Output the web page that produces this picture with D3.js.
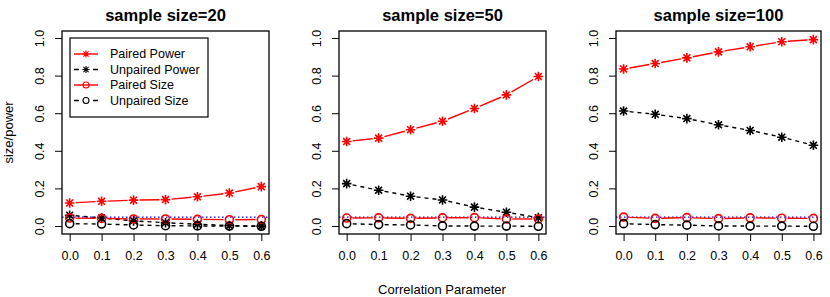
<!DOCTYPE html>
<html>
<head>
<meta charset="utf-8">
<script src="https://cdn.jsdelivr.net/npm/d3@7"></script>
<style>
  body { margin: 0; background: #fff; }
  svg { font-family: "Liberation Sans", Arial, sans-serif; }
</style>
</head>
<body>
<div id="chart"></div>
<script>
// size / power of paired vs unpaired test, three sample sizes

const corr = [0, 0.1, 0.2, 0.3, 0.4, 0.5, 0.6];
const sampleSizes = [20, 50, 100];
const yTicks = [0, 0.2, 0.4, 0.6, 0.8, 1.0];

// one row per sample size
const pairedPower = [
  [0.125, 0.134, 0.140, 0.143, 0.158, 0.178, 0.212],
  [0.452, 0.470, 0.515, 0.560, 0.628, 0.700, 0.798],
  [0.838, 0.867, 0.897, 0.929, 0.956, 0.983, 0.994]
];
const unpairedPower = [
  [0.060, 0.045, 0.030, 0.020, 0.012, 0.005, 0.002],
  [0.228, 0.193, 0.161, 0.141, 0.103, 0.076, 0.047],
  [0.614, 0.597, 0.574, 0.541, 0.511, 0.475, 0.432]
];
const pairedSize = [
  [0.045, 0.043, 0.040, 0.040, 0.038, 0.036, 0.037],
  [0.045, 0.046, 0.043, 0.046, 0.047, 0.040, 0.040],
  [0.050, 0.043, 0.047, 0.042, 0.046, 0.044, 0.043]
];
const unpairedSize = [
  [0.015, 0.013, 0.008, 0.004, 0.003, 0.002, 0.001],
  [0.015, 0.010, 0.008, 0.003, 0.002, 0.002, 0.001],
  [0.015, 0.010, 0.007, 0.003, 0.002, 0.002, 0.001]
];
const nominal = 0.05;

const series = [
  { name: "Paired Power",   vals: pairedPower,   col: "#ff0000", dash: null,  pch: "star" },
  { name: "Unpaired Power", vals: unpairedPower, col: "#000000", dash: "4,4", pch: "star" },
  { name: "Paired Size",    vals: pairedSize,    col: "#ff0000", dash: null,  pch: "circle" },
  { name: "Unpaired Size",  vals: unpairedSize,  col: "#000000", dash: "4,4", pch: "circle" }
];

const W = 830, H = 297;
const boxes = [
  { l: 62,  r: 269 },
  { l: 339, r: 546 },
  { l: 616, r: 821 }
];
const plotTop = 31, plotBottom = 234;

const svg = d3.select("#chart").append("svg")
  .attr("width", W).attr("height", H);

function drawPch(g, type, px, py, col, cex = 1, lw = 1.6) {
  if (type === "circle") {
    g.append("circle").attr("cx", px).attr("cy", py).attr("r", 4 * cex)
      .attr("fill", "none").attr("stroke", col).attr("stroke-width", lw);
  } else {
    const s = 4.8 * cex, d = s * 0.72;
    const p = `M${px - s},${py}L${px + s},${py}M${px},${py - s}L${px},${py + s}` +
              `M${px - d},${py - d}L${px + d},${py + d}M${px - d},${py + d}L${px + d},${py - d}`;
    g.append("path").attr("d", p).attr("stroke", col).attr("stroke-width", lw).attr("fill", "none");
  }
}

sampleSizes.forEach((n, i) => {
  const b = boxes[i];
  const x = d3.scaleLinear().domain([-0.024, 0.624]).range([b.l, b.r]);
  const y = d3.scaleLinear().domain([-0.04, 1.04]).range([plotBottom, plotTop]);
  const g = svg.append("g");

  // title
  g.append("text")
    .attr("x", (b.l + b.r) / 2).attr("y", 21)
    .attr("text-anchor", "middle")
    .attr("font-size", "16.5px").attr("font-weight", "bold")
    .text(`sample size=${n}`);

  // axes
  const xa = g.append("g").attr("transform", `translate(0,${plotBottom})`)
    .call(d3.axisBottom(x).tickValues(corr).tickFormat(d3.format(".1f")).tickSize(7).tickPadding(10));
  xa.select(".domain").remove();
  xa.selectAll("text").attr("font-size", "12.5px").attr("font-family", "Liberation Sans, Arial, sans-serif");

  const ya = g.append("g").attr("transform", `translate(${b.l},0)`)
    .call(d3.axisLeft(y).tickValues(yTicks).tickFormat(d3.format(".1f")).tickSize(7));
  ya.select(".domain").remove();
  ya.selectAll(".tick").attr("transform", null);
  ya.selectAll(".tick line").attr("y1", d => y(d)).attr("y2", d => y(d));
  ya.selectAll("text")
    .attr("font-size", "12.5px").attr("font-family", "Liberation Sans, Arial, sans-serif")
    .attr("text-anchor", "middle")
    .attr("x", -22).attr("y", d => y(d)).attr("dy", "0.35em")
    .attr("transform", d => `rotate(-90, -22, ${y(d)})`);

  // reference line at nominal level
  g.append("line")
    .attr("x1", b.l).attr("x2", b.r).attr("y1", y(nominal)).attr("y2", y(nominal))
    .attr("stroke", "#0000ff").attr("stroke-width", 1.2).attr("stroke-dasharray", "1.5,2.5");

  // series: lines with gaps around points (type "b")
  series.forEach(s => {
    const v = s.vals[i];
    for (let k = 0; k < corr.length - 1; k++) {
      const x0 = x(corr[k]), y0 = y(v[k]), x1 = x(corr[k + 1]), y1 = y(v[k + 1]);
      const len = Math.hypot(x1 - x0, y1 - y0), gap = 6;
      if (len <= 2 * gap) continue;
      const ux = (x1 - x0) / len, uy = (y1 - y0) / len;
      g.append("line")
        .attr("x1", x0 + ux * gap).attr("y1", y0 + uy * gap)
        .attr("x2", x1 - ux * gap).attr("y2", y1 - uy * gap)
        .attr("stroke", s.col).attr("stroke-width", 1.4)
        .attr("stroke-dasharray", s.dash);
    }
    v.forEach((d, k) => drawPch(g, s.pch, x(corr[k]), y(d), s.col));
  });

  // box
  g.append("rect")
    .attr("x", b.l).attr("y", plotTop).attr("width", b.r - b.l).attr("height", plotBottom - plotTop)
    .attr("fill", "none").attr("stroke", "#000").attr("stroke-width", 1.3);
});

// legend inside first panel
const lg = svg.append("g");
lg.append("rect").attr("x", 70).attr("y", 38).attr("width", 138).attr("height", 79)
  .attr("fill", "#fff").attr("stroke", "#000").attr("stroke-width", 1.2);
series.forEach((s, k) => {
  const ly = 54 + k * 15.5;
  lg.append("line").attr("x1", 74).attr("x2", 98).attr("y1", ly).attr("y2", ly)
    .attr("stroke", s.col).attr("stroke-width", 1.4).attr("stroke-dasharray", s.dash ? "5,14" : null);
  drawPch(lg, s.pch, 86, ly, s.col, 0.75, 1.1);
  lg.append("text").attr("x", 110).attr("y", ly).attr("dy", "0.35em")
    .attr("font-size", "12.5px").text(s.name);
});

// shared axis labels
svg.append("text")
  .attr("transform", `translate(13,${(plotTop + plotBottom) / 2}) rotate(-90)`)
  .attr("text-anchor", "middle").attr("font-size", "13px")
  .text("size/power");

svg.append("text")
  .attr("x", 442).attr("y", 294)
  .attr("text-anchor", "middle").attr("font-size", "13px")
  .text("Correlation Parameter");
</script>
</body>
</html>
